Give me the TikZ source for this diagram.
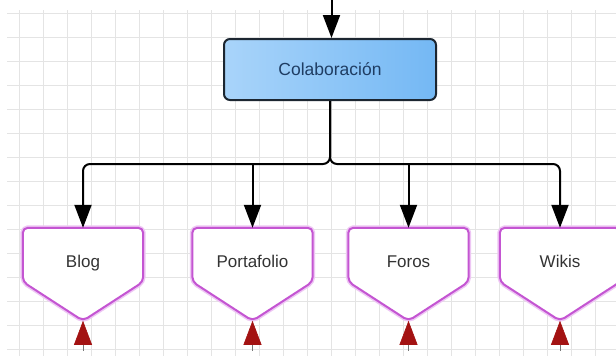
\documentclass[tikz,border=0pt]{standalone}
\usepackage{fontspec}
\setmainfont{Liberation Sans}
\usetikzlibrary{arrows.meta,calc}
\definecolor{gridc}{HTML}{E4E4E4}
\definecolor{magc}{HTML}{C455D2}
\definecolor{magglow}{HTML}{EEC6F4}
\definecolor{boxl}{HTML}{A9D4FA}
\definecolor{boxr}{HTML}{74B8F4}
\definecolor{boxline}{HTML}{1C2631}
\definecolor{coltext}{HTML}{1F3D63}
\definecolor{chtext}{HTML}{333333}
\definecolor{tipred}{HTML}{A31212}
\definecolor{stubc}{HTML}{777777}
\pgfdeclarelayer{bg}
\pgfsetlayers{bg,main}
\tikzset{
  gridline/.style={draw=gridc,line width=0.8pt},
  colabbox/.style={rectangle,rounded corners=6pt,minimum width=212pt,minimum height=61pt,
    line width=2pt,draw=boxline,left color=boxl,right color=boxr,
    font=\fontsize{17.5}{20}\selectfont,text=coltext},
  childbox/.style={rectangle,draw=none,minimum width=120pt,minimum height=70pt,inner sep=0pt,
    font=\fontsize{17}{20}\selectfont,text=chtext,text height=12.5pt,text depth=3.5pt},
  pentglow/.style={draw=magglow,line width=5pt,rounded corners=5pt,line join=round},
  pentline/.style={draw=magc,line width=2pt,rounded corners=5pt,line join=round,fill=white},
  arr/.style={draw=black,line width=2pt,-{Triangle[length=23pt,width=17pt]}},
  redarr/.style={draw=stubc,line width=0.6pt,-{Triangle[length=24pt,width=18pt,fill=tipred,color=tipred]}},
}
\newcommand\pentshape[1]{%
  \begin{pgfonlayer}{bg}
  \draw[pentglow] (#1.north west) -- (#1.north east) -- ($(#1.north east)+(0,54)$)
     -- ($(#1.north)+(0,93)$) -- ($(#1.north west)+(0,54)$) -- cycle;
  \draw[pentline] (#1.north west) -- (#1.north east) -- ($(#1.north east)+(0,54)$)
     -- ($(#1.north)+(0,93)$) -- ($(#1.north west)+(0,54)$) -- cycle;
  \end{pgfonlayer}
  \coordinate (#1-tip) at ($(#1.north)+(0,93)$);
}
\begin{document}
\begin{tikzpicture}[x=1pt,y=-1pt]
\useasboundingbox (0,0) rectangle (616,356);
\begin{pgfonlayer}{bg}
  \fill[white] (0,0) rectangle (616,356);
  \foreach \x in {19,43,...,595} \draw[gridline] (\x,10) -- (\x,356);
  \foreach \y in {13.3,37.3,...,349.3} \draw[gridline] (7,\y) -- (616,\y);
\end{pgfonlayer}

\node[colabbox] (colab) at (330,69.5) {Colaboración};

\node[childbox] (blog) at (83,263) {Blog};
\node[childbox] (portafolio) at (252.5,263) {Portafolio};
\node[childbox] (foros) at (408.5,263) {Foros};
\node[childbox] (wikis) at (560,263) {Wikis};
\pentshape{blog}
\pentshape{portafolio}
\pentshape{foros}
\pentshape{wikis}

\coordinate (topin) at (331.5,-2);
\coordinate (bus) at (0,164);
\draw[arr] (topin) -- (topin |- colab.north);

\draw[arr,rounded corners=7pt] (colab.south) -- (colab.south |- bus) -| (blog.north);
\draw[arr,rounded corners=7pt] (colab.south) -- (colab.south |- bus) -| (wikis.north);
\draw[arr] (portafolio.north |- bus) -- (portafolio.north);
\draw[arr] (foros.north |- bus) -- (foros.north);

\foreach \n in {blog,portafolio,foros,wikis}{
  \coordinate (\n-in) at ($(\n-tip)+(0,30)$);
  \draw[redarr] (\n-in) -- (\n-tip);
}
\end{tikzpicture}
\end{document}
